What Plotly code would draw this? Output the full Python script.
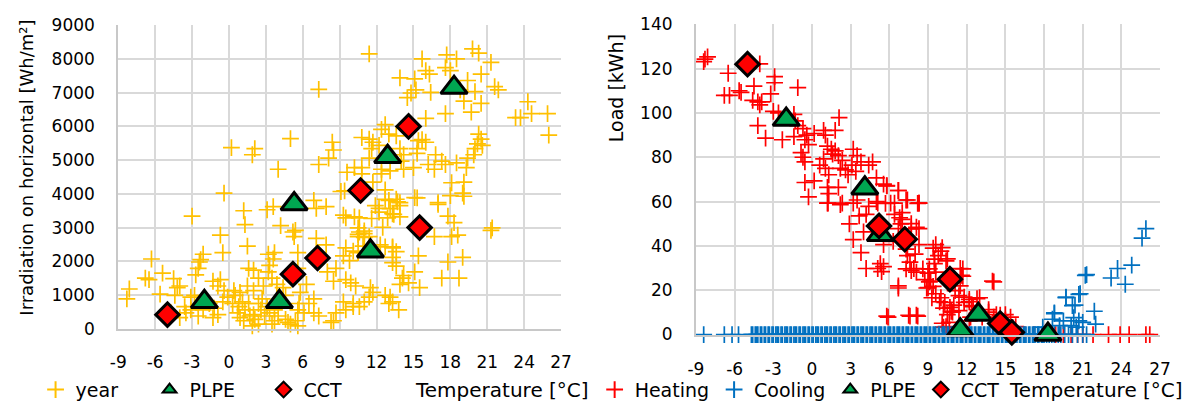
import plotly.graph_objects as go

# ---------------- data ----------------
year_temp = [11.4, 7.3, 15.7, 17.7, 18.5, 19.8, 20.3, 21.3, 13.9, 15.1, 16.0, 16.3, 17.6, 18.0, 19.4, 20.5,
             14.8, 15.2, 14.5, 16.4, 18.8, 20.0, 21.6, 21.9, 19.1, 20.5, 16.0, 17.6, 19.7, 24.3, 23.3, 23.7,
             24.6, 25.9, 26.0, 20.3, 20.5, 20.2, 20.0, 20.6, 19.4, 19.9, 19.3, 19.1, 19.0, 19.1, 17.0, 15.3,
             15.7, 16.0, 15.3, 16.8, 17.3, 16.2, 16.7, 17.6, 18.5, 15.0, 14.0, 14.2, 15.1, 13.6, 13.9, 12.7,
             12.7, 12.4, 13.1, 12.4, 11.4, 10.8, 10.2, 9.6, 10.8, 11.7, 11.4, 10.8, 11.7, 11.6, 12.2, 12.4,
             12.7, 13.0, 13.6, 13.9, 14.2, 15.4, 8.4, 8.5, 8.1, 7.3, 5.0, 4.0, 2.1, 1.9, 0.2, -0.4, 9.1,
             -3.0, 1.2, 1.3, -0.7, -0.5, 1.5, -2.1, -2.3, -2.4, -2.5, -2.7, -6.3, -6.8, -6.5, -5.4, -4.5,
             -4.2, -4.0, -4.4, -5.6, -8.1, -8.3, -3.1, -1.3, -0.9, -0.7, -0.4, -1.2, -0.9, -1.3, -0.5, -0.1,
             0.5, 1.1, 0.8, 1.3, 1.6, 1.5, 1.6, 2.0, 2.4, 1.7, 2.1, 2.4, 2.6, 3.2, 3.7, 3.6, 3.3, 3.2, 3.5,
             3.9, 3.1, 3.6, 4.2, 5.2, 5.3, 4.4, 4.6, 4.8, 3.5, 2.9, 3.7, 5.6, 5.7, 5.6, 5.6, -4.7, -4.0,
             -3.5, -3.1, -3.6, -2.8,
             0.3, 0.7, 0.9, 1.2, 1.9, 2.0, 2.4, 2.7, 3.1, 3.3, 3.7, 4.0, 4.6, 5.0, 5.4, 5.6, 0.4, 0.9, 2.0,
             2.8, -2.1, -1.6, -2.5,
             15.3, 17.0, 18.1, 18.0, 17.8, 18.3, 18.6, 18.1, 16.7, 21.3, 15.4, 17.8, 19.0, 17.3, 18.7, 15.1,
             14.1, 13.9, 14.6, 15.5, 13.3, 13.1, 12.7, 13.8, 11.5, 11.7, 11.4, 11.0, 10.6, 10.1, 9.5, 8.7,
             8.5, 10.6, 11.0, 10.5, 11.4, 12.5, 12.9, 13.4, 13.7, 13.0, 12.2, 9.5, 10.6, 9.4, 7.9, 7.1, 6.9,
             5.4, 7.1, 7.9, 9.5, 10.1, 9.3, 9.8, 10.5, 10.9, 12.3, 13.3, 13.3, 8.7, 8.0, 8.5, 9.5, 9.9, 10.3,
             6.3, 5.8, 6.5, 6.9, 6.1, 6.9, 7.3, 9.3, 10.1, 13.0, 8.3,
             9.3, 10.2, 10.5, 11.0, 10.5, 11.0, 11.6, 11.9, 12.2, 13.1, 13.3, 13.9, 13.9, 12.7, 13.3, 13.6,
             13.3, 13.6, 14.2, 21.4]
year_irr = [8150, 7100, 8000, 8120, 8000, 8300, 8170, 7900, 7440, 7410, 7650, 7550, 7740, 7650, 7360, 7550,
            6990, 7080, 6850, 7010, 7080, 7030, 7180, 7080, 6750, 6680, 6240, 6380, 6420, 6730, 6260, 6260,
            6380, 6380, 5740, 5770, 5620, 5480, 5340, 5440, 5060, 5160, 4780, 4350, 4020, 3930, 3740, 5200,
            5610, 5530, 5340, 5160, 4970, 4870, 4730, 4870, 4920, 4780, 4970, 4730, 3890, 3840, 3740, 3840,
            4120, 4590, 4680, 4730, 5060, 4780, 4780, 4640, 4590, 4350, 5620, 5670, 5530, 5340, 5440, 5910,
            6050, 5770, 5720, 5340, 5160, 5580, 5530, 5300, 5060, 4870, 5640, 4730, 5340, 5160, 5370, 4020, 4070,
            3340, 3500, 3090, 2780, 2260, 2450, 2210, 2050, 1980, 1790, 1600, 2070, 1500, 1460, 1650, 1490,
            1220, 1270, 990, 1030, 1180, 890, 940, 1410, 1270, 1460, 1130, 610, 420, 330, 800, 940,
            990, 800, 660, 560, 750, 1270, 1790, 1740, 1500, 380, 280, 140, 560, 2210, 2260, 2070, 1880, 1690,
            1500, 1320, 3530, 3620, 3060, 2870, 2730, 1220, 990, 190, 140, 380, 240, 560, 750, 1790, 2260, 470, 330,
            470, 560, 660, 990,
            750, 470, 330, 240, 90, 420, 750, 890, 660, 470, 560, 380, 280, 140, 240, 90, 1130, 1080, 1130,
            1270, 560, 750, 380,
            3880, 3690, 4330, 3950, 3340, 3150, 2780, 2730, 2730, 2920, 2160, 1980, 2120, 1500, 1500, 1690,
            1500, 1320, 1360, 1220, 800, 940, 990, 560, 1220, 1080, 940, 800, 660, 660, 560, 470,
            240, 2870, 2820, 2730, 2730, 3010, 3290, 3390, 3760, 3810, 3570, 3290, 3290, 4090, 3620, 3570, 3810,
            2920, 2680, 2490, 2400, 2300, 2160, 2020, 2260, 2450, 2490, 2400, 2120, 1790, 1690, 1410, 1460, 1360, 1270,
            1320, 1080, 750, 890, 470, 470, 380, 800, 750, 750, 190,
            3370, 3320, 2990, 2900, 2800, 2710, 3270, 3650, 3460, 3560, 3410, 3320, 3650, 2430, 2430, 2290,
            1960, 1860, 1580, 2990]

plpe_temp = [-2.0, 4.1, 5.3, 11.5, 12.9, 18.3]
plpe_irr = [800, 800, 3700, 2300, 5100, 7150]
cct_temp = [-5.0, 5.2, 7.2, 10.7, 14.6, 15.5]
cct_irr = [420, 1620, 2100, 4100, 6000, 3000]

plpe_load = [97, 66, 45, 2, 9, 0]
cct_load = [122, 49, 43, 25, 5, 1]

heat_temp = [-8.3, -8.1, -8.4, -4.05, -6.5, -6.8, -6.4, -5.65, -5.5, -4.5, -4.6, -4.2, -3.9, -4.05, -3.2,
             -2.9, -2.9, -1.1, -4.2, -3.6, -2.3, -3.0, -2.6, -1.4, -1.3, -1.1, -1.4, -0.7, -0.55, -0.4, 0.17,
             -0.85, -0.7, -0.55, -0.27, 0.9, 1.04, 1.8, 2.1, 1.2, 1.5, 1.6, 0.9, 0.6, 1.04, 1.3, 1.8, 2.05,
             2.35, 2.2, 2.6, 2.8, 3.2, 3.5, 3.8, 3.1, 3.4, 4.4, 4.7, 5.0, 5.55, 5.8, 6.7, 7.4, 8.3, -0.55,
             0.17, -0.27, 1.2, 1.3, 2.05, 1.2, 2.2, 3.5, 5.0, 6.1,
             1.24, 2.35, 3.2, 4.4, 5.1, 6.4, 7.0, 8.3, 2.9, 3.66, 4.2, 3.2, 4.0, 3.8, 4.2, 5.3, 5.1, 5.4,
             5.55, 6.7, 5.8, 7.6, 8.2, 6.3, 6.7, 7.0, 6.4, 5.55, 7.3, 7.4, 7.6, 7.9, 8.0, 8.3, 8.3, 7.7,
             9.0, 8.75, 9.2, 9.0, 9.5, 9.8, 9.6, 10.1, 10.5, 11.5, 11.7, 11.5, 11.1, 11.4, 11.8, 12.2, 12.8,
             14.0, 12.5, 13.7, 14.3, 9.6, 9.9, 10.2, 10.5, 10.65, 10.2, 11.0, 10.8, 12.2, 15.0,
             5.8, 6.7, 7.3, 8.2, 5.7, 6.8, 6.9, 8.1, 7.7, 9.4, 10.0, 9.5, 10.4, 9.1, 9.6, 8.6, 8.1, 7.7,
             7.3, 11.7, 11.6, 14.1, 6.7, 5.9, 7.5, 8.1, 9.1, 8.9, 9.4, 9.3, 10.0, 10.3, 10.7, 10.9, 11.4,
             11.8, 12.2, 12.4, 13.0, 12.3, 13.2, 13.7, 14.1, 14.6, 15.0, 15.4, 15.8, 10.1, 10.4,
             15.8, 16.5, 17.2, 18.9, 19.5, 20.1, 20.6, 21.0, 21.8, 23.0, 23.9, 24.6, 25.9, 26.2]
heat_load = [124.3, 125.3, 123.1, 122.1, 117.9, 107.9, 107.9, 110.0, 109.3, 112.1, 105.7, 105.0, 105.0,
             103.6, 108.6, 116.4, 113.6, 111.4, 94.3, 88.6, 87.9, 100.7, 100.0, 99.3, 96.4, 94.3, 89.3, 92.9,
             87.9, 90.0, 90.7, 82.1, 80.0, 77.9, 85.7, 92.1, 90.0, 92.1, 97.9, 85.0, 83.6, 81.4, 79.3, 76.4,
             75.0, 72.1, 82.9, 80.7, 78.6, 75.0, 74.3, 72.1, 83.6, 80.7, 77.9, 76.4, 73.6, 76.4, 77.9, 70.7,
             67.9, 67.1, 65.0, 60.7, 59.3, 68.6, 69.3, 62.1, 66.4, 63.6, 66.4, 59.3, 58.6, 60.7, 60.0, 59.3,
             59.3, 59.3, 59.3, 57.8, 59.3, 59.3, 55.0, 59.3, 49.9, 53.5, 54.2, 42.8, 46.3, 37.0, 29.8, 32.0,
             29.8, 28.4, 30.6, 22.0, 8.3, 8.3, 8.3, 42.0, 47.8, 52.0, 54.2, 40.6, 38.5, 35.6, 32.7, 29.8,
             36.3, 40.6, 47.8, 50.0, 27.7, 24.8, 24.1, 21.2, 32.0, 35.6, 40.6, 39.2, 34.1, 29.8, 26.3, 22.0,
             19.8, 17.6, 16.9, 14.8, 16.2, 24.1, 12.6, 11.2, 9.0, 18.4, 14.8, 11.9, 9.0, 5.5, 3.3, 13.3, 10.5,
             6.2, 9.0,
             67.2, 65.0, 60.7, 59.2, 59.2, 52.7, 49.9, 48.4, 47.7, 39.0, 37.6, 34.0, 33.2, 29.6, 28.2, 29.6,
             28.2, 28.9, 29.6, 29.6, 26.7, 23.8, 21.0, 7.9, 8.7, 8.7, 23.8, 21.0, 21.7, 16.6, 16.6, 14.5,
             12.3, 10.1, 10.8, 14.5, 15.9, 13.0, 16.6, 7.9, 7.9, 10.1, 7.9, 8.7, 6.5, 7.9, 3.6, 5.1, 3.6,
             0, 0, 0, 0, 0, 0, 0, 0, 0, 0, 0, 0, 0, 0]

# cooling: days with zero load (temperatures read along the baseline) and days with load > 0
cool_zero_temp = [-8.4, -6.8, -6.2, -5.7, -4.7, -4.6, -4.4, -4.3, -4.2, -4.0, -3.9, -3.7, -3.6, -3.4, -3.3,
                  -3.1, -3.0, -2.8, -2.7, -2.6, -2.4, -2.3, -2.1, -2.0, -1.9, -1.7, -1.6, -1.4, -1.3, -1.2,
                  -1.0, -0.9, -0.7, -0.6, -0.5, -0.3, -0.2, 0.0, 0.1, 0.3, 0.4, 0.5, 0.7, 0.8, 1.0, 1.1, 1.2,
                  1.4, 1.5, 1.7, 1.8, 1.9, 2.1, 2.2, 2.4, 2.5, 2.6, 2.8, 2.9, 3.1, 3.2, 3.3, 3.5, 3.6, 3.8,
                  3.9, 4.0, 4.2, 4.3, 4.5, 4.6, 4.7, 4.9, 5.0, 5.2, 5.3, 5.4, 5.6, 5.7, 5.9, 6.0, 6.1, 6.3,
                  6.4, 6.6, 6.7, 6.8, 7.0, 7.1, 7.3, 7.4, 7.5, 7.7, 7.8, 8.0, 8.1, 8.2, 8.4, 8.5, 8.7, 8.8,
                  8.9, 9.1, 9.2, 9.4, 9.5, 9.6, 9.8, 9.9, 10.1, 10.2, 10.3, 10.5, 10.6, 10.8, 10.9, 11.0,
                  11.2, 11.3, 11.5, 11.6, 11.7, 11.9, 12.0, 12.2, 12.3, 12.4, 12.6, 12.7, 12.9, 13.0, 13.1,
                  13.3, 13.4, 13.6, 13.7, 13.8, 14.0, 14.1, 14.3, 14.4, 14.5, 14.7, 14.8, 15.0, 15.1, 15.2,
                  15.4, 15.5, 15.7, 15.8, 15.9, 16.1, 16.2, 16.4, 16.5, 16.6, 16.8, 16.9, 17.1, 17.2, 17.3,
                  17.5, 17.6, 17.8, 17.9, 18.0, 18.2, 18.4, 18.6, 18.8, 19.1, 19.3, 19.6, 19.9, 20.2, 20.6,
                  21.0, 21.3]
cool_pos_temp = [25.6, 25.9, 24.8, 23.7, 23.2, 24.3, 21.3, 21.9, 22.0, 20.8, 20.4, 19.7, 18.8, 18.65, 19.5,
                 20.3, 20.7, 21.0, 19.2, 20.1, 17.9, 20.5, 21.2, 19.7, 20.7, 20.2, 18.8]
cool_pos_load = [43.5, 47.8, 31.3, 29.8, 25.5, 22.7, 27.0, 10.5, 4.7, 18.4, 13.3, 16.9, 9.8, 6.9, 6.2,
                 7.6, 6.2, 5.5, 4.0, 4.0, 3.3, 3.3, 26.7, 16.6, 18.1, 13.0, 9.4]
cool_temp = cool_zero_temp + cool_pos_temp
cool_load = [0] * len(cool_zero_temp) + cool_pos_load

x_ticks = [-9, -6, -3, 0, 3, 6, 9, 12, 15, 18, 21, 24, 27]
x_ticktext = ["-9", "-6", "-3", "0", "3", "6", "9", "12", "15", "18", "21", "24", "27"]

# ---------------- styles ----------------
FONT = "DejaVu Sans"
YELLOW = "#FFC000"
RED = "#FF0000"
BLUE = "#0070C0"
GREEN = "#00A651"
GRID = "#D9D9D9"

def plus(c):
    return dict(symbol="cross-thin", size=12, line=dict(color=c, width=1.7))

tri = dict(symbol="triangle-up", size=23, color=GREEN, line=dict(color="black", width=3))
dia = dict(symbol="diamond", size=18, color=RED, line=dict(color="black", width=3))

fig = go.Figure()
fig.add_trace(go.Scatter(x=year_temp, y=year_irr, mode="markers", name="year", marker=plus(YELLOW),
                         xaxis="x", yaxis="y", legend="legend", cliponaxis=False))
fig.add_trace(go.Scatter(x=plpe_temp, y=plpe_irr, mode="markers", name="PLPE", marker=tri,
                         xaxis="x", yaxis="y", legend="legend", cliponaxis=False))
fig.add_trace(go.Scatter(x=cct_temp, y=cct_irr, mode="markers", name="CCT", marker=dia,
                         xaxis="x", yaxis="y", legend="legend", cliponaxis=False))

fig.add_trace(go.Scatter(x=heat_temp, y=heat_load, mode="markers", name="Heating", marker=plus(RED),
                         xaxis="x2", yaxis="y2", legend="legend2", cliponaxis=False))
fig.add_trace(go.Scatter(x=cool_temp, y=cool_load, mode="markers", name="Cooling", marker=plus(BLUE),
                         xaxis="x2", yaxis="y2", legend="legend2", cliponaxis=False))
fig.add_trace(go.Scatter(x=plpe_temp, y=plpe_load, mode="markers", name="PLPE", marker=tri,
                         xaxis="x2", yaxis="y2", legend="legend2", cliponaxis=False))
fig.add_trace(go.Scatter(x=cct_temp, y=cct_load, mode="markers", name="CCT", marker=dia,
                         xaxis="x2", yaxis="y2", legend="legend2", cliponaxis=False))

axis_common = dict(showgrid=True, gridcolor=GRID, gridwidth=1.5, zeroline=False, showline=True,
                   linecolor="#C8C8C8", linewidth=2, mirror=False, ticks="",
                   tickfont=dict(family=FONT, size=17, color="black"))

LEG_Y = 1 - 399 / 414

fig.update_layout(
    width=1197, height=414, margin=dict(l=0, r=0, t=0, b=0),
    paper_bgcolor="white", plot_bgcolor="white",
    font=dict(family=FONT, size=17, color="black"),
    xaxis=dict(domain=[0.0936, 0.4695], range=[-9, 27], tickvals=x_ticks, ticktext=x_ticktext,
               anchor="y", ticklabelstandoff=17, **axis_common),
    yaxis=dict(domain=[0.1908, 0.9615], range=[0, 9000], dtick=1000, anchor="x",
               ticklabelstandoff=18, **axis_common),
    xaxis2=dict(domain=[0.584, 0.978], range=[-9, 27], tickvals=x_ticks, ticktext=x_ticktext,
                anchor="y2", ticklabelstandoff=18, **axis_common),
    yaxis2=dict(domain=[0.1763, 0.9638], range=[0, 140], dtick=20, anchor="x2",
                ticklabelstandoff=18, **axis_common),
    legend=dict(orientation="h", x=0.0234, y=LEG_Y, xanchor="left", yanchor="middle",
                itemsizing="constant", entrywidth=69, font=dict(family=FONT, size=19),
                bgcolor="rgba(0,0,0,0)"),
    legend2=dict(orientation="h", x=0.498, y=LEG_Y, xanchor="left", yanchor="middle",
                 itemsizing="constant", font=dict(family=FONT, size=19),
                 bgcolor="rgba(0,0,0,0)"),
    showlegend=True,
)

fig.add_annotation(text="Temperature [°C]", xref="paper", yref="paper", x=502 / 1197, y=LEG_Y,
                   xanchor="center", yanchor="middle", showarrow=False, font=dict(family=FONT, size=20))
fig.add_annotation(text="Temperature [°C]", xref="paper", yref="paper", x=1106 / 1197, y=LEG_Y,
                   xanchor="center", yanchor="middle", showarrow=False, font=dict(family=FONT, size=20))
fig.add_annotation(text="Irradiation on horizontal [Wh/m²]", xref="paper", yref="paper",
                   x=19 / 1197, y=1 - 166 / 414, xanchor="center", yanchor="middle", textangle=-90,
                   showarrow=False, font=dict(family=FONT, size=18))
fig.add_annotation(text="Load [kWh]", xref="paper", yref="paper",
                   x=618 / 1197, y=1 - 82 / 414, xanchor="center", yanchor="middle", textangle=-90,
                   showarrow=False, font=dict(family=FONT, size=19))

fig.write_html("out.html", config={"displayModeBar": False},
               post_script="document.body.style.margin='0';document.body.style.overflow='hidden';")
